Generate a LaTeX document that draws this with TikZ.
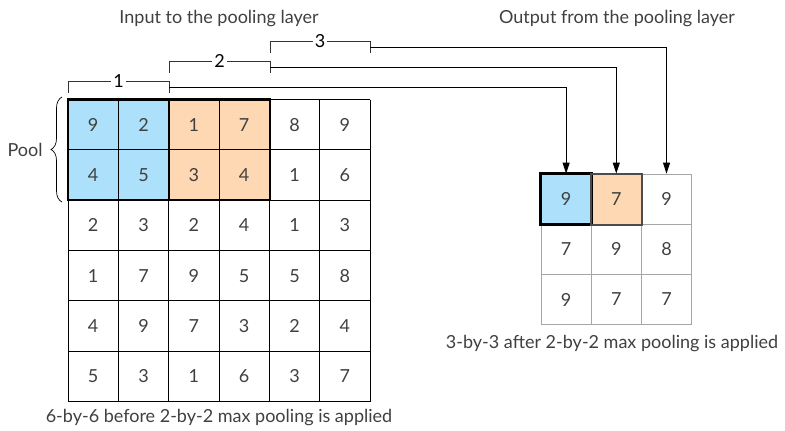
\documentclass[tikz,border=0pt]{standalone}
\usepackage{fontspec}
\setmainfont{Lato}
\usetikzlibrary{arrows.meta,decorations.pathreplacing}
\definecolor{poolblue}{RGB}{173,224,250}
\definecolor{poolorange}{RGB}{253,216,179}
\definecolor{txtgray}{RGB}{64,64,64}

\begin{document}
\begin{tikzpicture}[x=1pt, y=-1pt, font=\fontsize{18}{21}\selectfont, text=txtgray,
    cell/.style={minimum size=50pt, inner sep=0pt},
    ocell/.style={cell, draw=black!35, line width=1pt},
    bracket/.style={draw=black!80, line width=0.9pt},
    link/.style={line width=0.9pt, -{Triangle[length=11pt,width=7pt]}}]
    \useasboundingbox (0,0) rectangle (785,431);

    % Titel
    \node (tin) at (219,19) {Input to the pooling layer};
    \node (tout) at (617,19) {Output from the pooling layer};

    % Eingabe 6x6
    \fill[poolblue] (68,99.5) rectangle (169,200);
    \fill[poolorange] (169,99.5) rectangle (270,200);
    \foreach \i in {0,...,6} {
        \draw[line width=0.9pt] (68+50.33*\i,99.5) -- (68+50.33*\i,401.5);
        \draw[line width=0.9pt] (68,99.5+50.33*\i) -- (370,99.5+50.33*\i);
    }
    \foreach \row [count=\r] in {{9,2,1,7,8,9},{4,5,3,4,1,6},{2,3,2,4,1,3},
                                 {1,7,9,5,5,8},{4,9,7,3,2,4},{5,3,1,6,3,7}} {
        \foreach \v [count=\c] in \row
            \node[cell] (in-\r-\c) at (68+50.33*\c-25.17, 99.5+50.33*\r-25.17) {\v};
    }
    \draw[line width=2.6pt] (68,99.5) rectangle (169,200);
    \draw[line width=2.6pt] (169,99.5) rectangle (270,200);

    % Pool
    \draw[decorate, decoration={brace, amplitude=11pt}, line width=0.7pt]
        (62,202) -- (62,97);
    \node (pool) at (25,150) {Pool};

    % Ausgabe 3x3
    \foreach \row [count=\r] in {{9,7,9},{7,9,8},{9,7,7}} {
        \foreach \v [count=\c] in \row
            \node[ocell] (o\r\c) at (541+50.2*\c-25.1, 174+50.2*\r-25.1) {\v};
    }
    \fill[poolblue] (o11.south west) rectangle (o11.north east);
    \fill[poolorange] (o12.south west) rectangle (o12.north east);
    \node[cell] at (o11) {9};
    \node[cell] at (o12) {7};
    \draw[line width=2.6pt] (o11.south west) rectangle (o11.north east);
    \draw[line width=2pt, black!70] (o12.south west) rectangle (o12.north east);

    % Klammern 1, 2, 3
    \draw[bracket] (68,93) -- (68,81) -- node[fill=white, inner sep=2pt, text=black] (n1) {1}
        (169,81) -- (169,93);
    \draw[bracket] (169,73) -- (169,61) -- node[fill=white, inner sep=2pt, text=black] (n2) {2}
        (270,61) -- (270,73);
    \draw[bracket] (270,53) -- (270,41) -- node[fill=white, inner sep=2pt, text=black] (n3) {3}
        (370,41) -- (370,53);
    \coordinate (b1) at (169,87.7);
    \coordinate (b2) at (270,67.7);
    \coordinate (b3) at (370,47.3);
    \draw[link] (b1) -| (o11.north);
    \draw[link] (b2) -| (o12.north);
    \draw[link] (b3) -| (o13.north);

    % Unterschriften
    \node (cin) at (219,418) {6-by-6 before 2-by-2 max pooling is applied};
    \node (cout) at (612,344) {3-by-3 after 2-by-2 max pooling is applied};
\end{tikzpicture}
\end{document}
